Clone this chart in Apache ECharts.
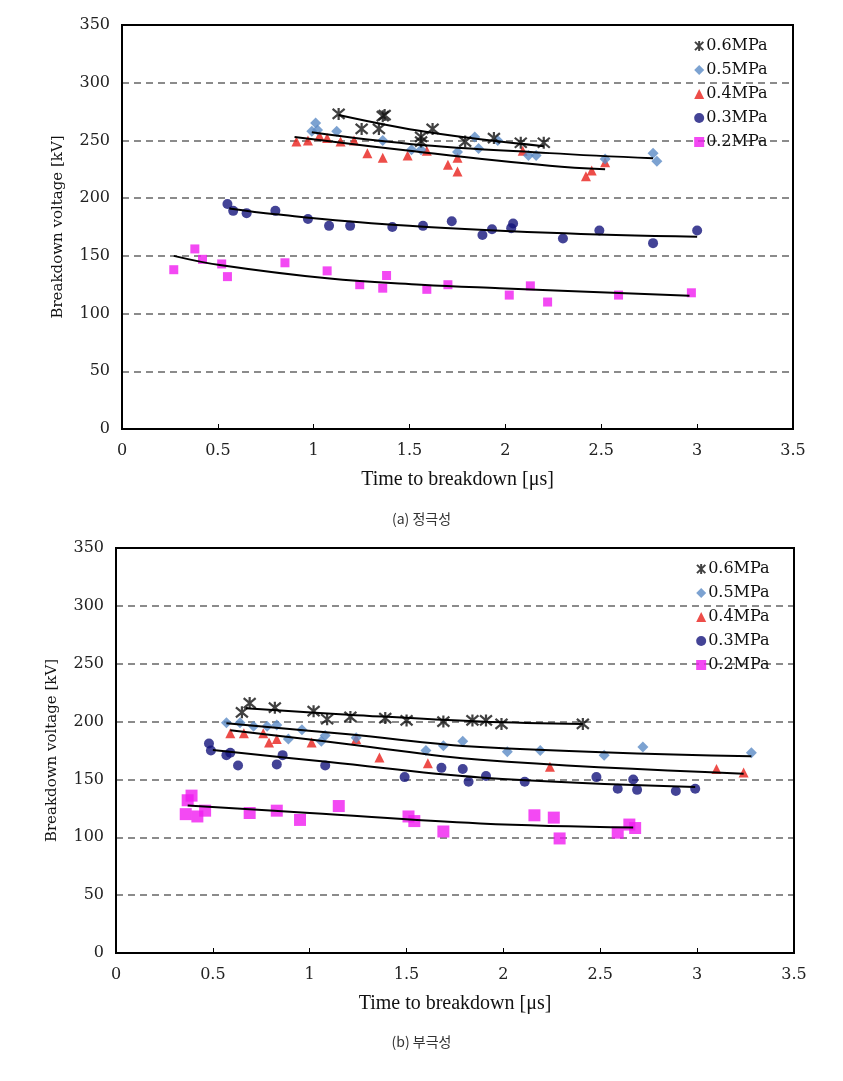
<!DOCTYPE html>
<html><head><meta charset="utf-8">
<script src="https://cdn.jsdelivr.net/npm/echarts@6/dist/echarts.min.js"></script>
<style>html,body{margin:0;padding:0;background:#fff}#c{width:843px;height:1081px}</style>
</head><body><div id="c"></div><script>
// ---------- labels ----------
const seriesNames = ['0.6MPa', '0.5MPa', '0.4MPa', '0.3MPa', '0.2MPa'];
const xAxisTitle = 'Time to breakdown [\u03bcs]';
const yAxisTitle = 'Breakdown voltage [kV]';
const captionTop = '(a) 정극성';
const captionBottom = '(b) 부극성';

// ---------- (a) positive polarity : [time us, voltage kV] ----------
const pos06 = [[1.13,273],[1.25,260],[1.34,260],[1.36,271],[1.37,272],[1.56,253],[1.56,249],[1.62,260],[1.79,249],[1.94,252],[2.08,248],[2.2,248]];
const pos05 = [[0.99,258],[1.01,265],[1.02,259],[1.12,258],[1.36,250],[1.51,242],[1.56,242],[1.75,240],[1.84,253],[1.86,243],[1.96,250],[2.12,237],[2.16,237],[2.52,234],[2.77,239],[2.79,232]];
const pos04 = [[0.91,249],[0.97,250],[1.03,254],[1.07,252],[1.14,249],[1.21,250],[1.28,239],[1.36,235],[1.49,237],[1.59,241],[1.70,229],[1.75,223],[1.75,235],[2.09,241],[2.42,219],[2.45,224],[2.52,231]];
const pos03 = [[0.55,195],[0.58,189],[0.65,187],[0.80,189],[0.97,182],[1.08,176],[1.19,176],[1.41,175],[1.57,176],[1.72,180],[1.88,168],[1.93,173],[2.03,174],[2.04,178],[2.30,165],[2.49,172],[2.77,161],[3.0,172]];
const pos02 = [[0.27,138],[0.38,156],[0.42,147],[0.52,143],[0.55,132],[0.85,144],[1.07,137],[1.24,125],[1.36,122],[1.38,133],[1.59,121],[1.70,125],[2.02,116],[2.13,124],[2.22,110],[2.59,116],[2.97,118]];
// trend lines
const posFit06 = [[1.13,272],[1.6,257],[2.2,245]];
const posFit05 = [[0.99,257],[1.5,247],[2.23,239],[2.77,234.5]];
const posFit04 = [[0.90,253],[1.5,241],[2.23,228],[2.52,225]];
const posFit03 = [[0.56,191],[0.8,186],[1.41,177],[2.23,170],[3.0,166.5]];
const posFit02 = [[0.27,150],[0.51,142],[1.07,130.5],[1.56,125],[1.97,122],[2.96,115.5]];

// ---------- (b) negative polarity ----------
const neg06 = [[0.65,208],[0.69,216],[0.82,212],[1.02,209],[1.09,202],[1.21,204],[1.39,203],[1.50,201],[1.69,200],[1.84,201],[1.91,201],[1.99,198],[2.41,198]];
const neg05 = [[0.57,199],[0.64,199],[0.71,196],[0.78,196],[0.83,197],[0.89,185],[0.96,193],[1.06,183],[1.08,188],[1.24,186],[1.60,175],[1.69,179],[1.79,183],[2.02,174],[2.19,175],[2.52,171],[2.72,178],[3.28,173]];
const neg04 = [[0.59,190],[0.66,190],[0.76,190],[0.79,182],[0.83,185],[1.01,182],[1.24,185],[1.36,169],[1.61,164],[2.24,161],[3.10,159],[3.24,156]];
const neg03 = [[0.48,181],[0.49,175],[0.57,171],[0.59,173],[0.63,162],[0.83,163],[0.86,171],[1.08,162],[1.49,152],[1.68,160],[1.79,159],[1.82,148],[1.91,153],[2.11,148],[2.48,152],[2.59,142],[2.67,150],[2.69,141],[2.89,140],[2.99,142]];
const neg02 = [[0.37,132],[0.39,136],[0.36,120],[0.42,118],[0.46,123],[0.69,121],[0.83,123],[0.95,115],[1.15,127],[1.51,118],[1.54,114],[1.69,105],[2.16,119],[2.26,117],[2.29,99],[2.59,104],[2.65,111],[2.68,108]];
const negFit06 = [[0.67,211.5],[1.2,206],[1.88,200],[2.41,198]];
const negFit05 = [[0.57,198.5],[1.2,189],[1.88,178],[3.28,170]];
const negFit04 = [[0.59,192.5],[1.2,180.5],[1.88,167],[3.24,155]];
const negFit03 = [[0.5,175.5],[1.1,165],[1.88,151.7],[2.99,143.5]];
const negFit02 = [[0.37,127.5],[1.0,121],[1.88,112],[2.67,108.5]];

// ---------- styles ----------
const STAR = 'path://M0,0L10,10M10,0L0,10M5,-1L5,11';
const styles = [
  {symbol: STAR, size: 12, itemStyle: {color: '#111', borderColor: '#111', borderWidth: 2.2}},
  {symbol: 'diamond', size: 11, itemStyle: {color: '#5b8bc6'}},
  {symbol: 'triangle', size: 10, itemStyle: {color: '#e8201c'}},
  {symbol: 'circle', size: 10, itemStyle: {color: '#14147c'}},
  {symbol: 'rect', size: 9, itemStyle: {color: '#f01cf0'}}
];

const SERIF = '"DejaVu Serif", "Liberation Serif", serif';
const TSERIF = '"Liberation Serif", "DejaVu Serif", serif';

function scatter(idx, data, ax, sizeOverride) {
  const s = styles[idx];
  return {
    type: 'scatter', name: seriesNames[idx], data: data,
    xAxisIndex: ax, yAxisIndex: ax,
    symbol: s.symbol, symbolSize: sizeOverride || s.size,
    itemStyle: s.itemStyle, z: 3 + (4 - idx) * 0.1,
    emphasis: {disabled: true}
  };
}
function fit(data, ax) {
  return {
    type: 'line', data: data, xAxisIndex: ax, yAxisIndex: ax,
    showSymbol: false, smooth: 0.4, silent: true, z: 4,
    lineStyle: {color: '#000', width: 2}
  };
}
function xAxis(grid) {
  return {
    type: 'value', gridIndex: grid, min: 0, max: 3.5, interval: 0.5,
    axisLine: {show: true, lineStyle: {color: '#000', width: 2}},
    axisTick: {show: true, inside: true, length: 5, lineStyle: {color: '#000', width: 1}},
    axisLabel: {color: '#222', fontFamily: SERIF, fontSize: 16, margin: 14},
    splitLine: {show: false},
    name: xAxisTitle, nameLocation: 'middle', nameGap: 41,
    nameTextStyle: {color: '#111', fontFamily: TSERIF, fontSize: 20}
  };
}
function yAxis(grid) {
  return {
    type: 'value', gridIndex: grid, min: 0, max: 350, interval: 50,
    axisLine: {show: true, lineStyle: {color: '#000', width: 2}},
    axisTick: {show: false},
    axisLabel: {color: '#222', fontFamily: SERIF, fontSize: 16, margin: 12},
    splitLine: {show: true, lineStyle: {color: '#666', width: 1.5, type: [7, 5]}},
    name: yAxisTitle, nameLocation: 'middle', nameGap: 56,
    nameTextStyle: {color: '#111', fontFamily: SERIF, fontSize: 15}
  };
}
function legend(left, top) {
  return {
    data: seriesNames, orient: 'vertical', left: left, top: top,
    itemWidth: 10, itemHeight: 10, itemGap: 8,
    textStyle: {color: '#111', fontFamily: SERIF, fontSize: 16, padding: [0, 0, 0, -3]},
    selectedMode: false
  };
}

const chart = echarts.init(document.getElementById('c'), null, {renderer: 'canvas'});
chart.setOption({
  backgroundColor: '#fff',
  animation: false,
  title: [
    {text: captionTop, left: 'center', top: 507, textStyle: {fontFamily: '"Noto Sans CJK KR", sans-serif', fontSize: 14, fontWeight: 'normal', color: '#333'}},
    {text: captionBottom, left: 'center', top: 1030, textStyle: {fontFamily: '"Noto Sans CJK KR", sans-serif', fontSize: 14, fontWeight: 'normal', color: '#333'}}
  ],
  grid: [
    {left: 122, top: 25, width: 671, height: 404, show: true, borderColor: '#000', borderWidth: 2, z: 6},
    {left: 116, top: 548, width: 678, height: 405, show: true, borderColor: '#000', borderWidth: 2, z: 6}
  ],
  xAxis: [xAxis(0), xAxis(1)],
  yAxis: [yAxis(0), yAxis(1)],
  legend: [legend(689, 33), legend(691, 556)],
  series: [
    scatter(0, pos06, 0), scatter(1, pos05, 0), scatter(2, pos04, 0), scatter(3, pos03, 0), scatter(4, pos02, 0),
    fit(posFit06, 0), fit(posFit05, 0), fit(posFit04, 0), fit(posFit03, 0), fit(posFit02, 0),
    scatter(0, neg06, 1), scatter(1, neg05, 1), scatter(2, neg04, 1), scatter(3, neg03, 1), scatter(4, neg02, 1, 12),
    fit(negFit06, 1), fit(negFit05, 1), fit(negFit04, 1), fit(negFit03, 1), fit(negFit02, 1)
  ]
});
</script></body></html>
